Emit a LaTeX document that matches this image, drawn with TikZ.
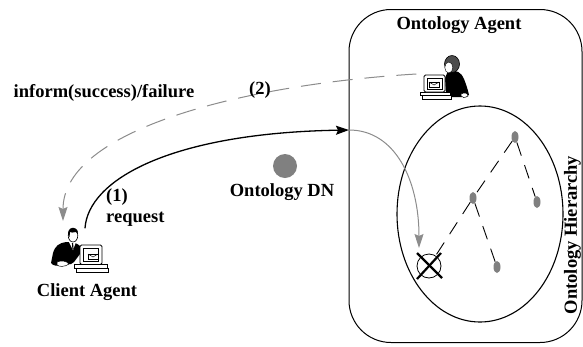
\documentclass[tikz,border=0pt]{standalone}
\usepackage{fontspec}
\setmainfont{Liberation Serif}
\usetikzlibrary{arrows.meta,shapes.geometric}

\definecolor{linegray}{gray}{0.55}
\definecolor{dotgray}{gray}{0.5}
\definecolor{hairgray}{gray}{0.3}

\tikzset{
  lbl/.style={font=\bfseries\fontsize{18.5}{20}\selectfont, inner sep=0pt},
  treenode/.style={ellipse, fill=dotgray, minimum width=7pt, minimum height=12pt, inner sep=0pt},
  treelink/.style={dash pattern=on 14pt off 10pt, line width=0.9pt},
  iconbox/.style={inner sep=0pt, minimum width=57pt, minimum height=47pt},
  blackarrow/.style={line width=1.3pt, -{Stealth[length=13pt,width=9pt,inset=2pt]}},
  grayarrow/.style={draw=linegray, line width=1pt, -{Stealth[length=14pt,width=9pt,inset=2pt,fill=linegray]}},
  graydashed/.style={draw=linegray, line width=1pt, dash pattern=on 20pt off 12pt,
    -{Stealth[length=14pt,width=9pt,inset=2pt,fill=linegray]}},
  % man at a desktop computer, local origin at the icon's top-left corner
  manicon/.pic={
    \draw[fill=white, line width=0.7pt] (29,42.5) rectangle (62,46.5);
    \draw[fill=white, line width=0.7pt] (31,46.5) rectangle (63,50);
    \fill[black] (21,20) .. controls (14,21) and (10,24) .. (8,31) -- (6,41)
      .. controls (8,44) and (12,44) .. (16,43) -- (26,42) -- (29,40) -- (35,32) -- (35,24)
      .. controls (32,21) and (28,20) .. (21,20) -- cycle;
    \draw[fill=white, line width=0.5pt] (12,40) .. controls (16,38) and (22,39) .. (24,42)
      .. controls (20,45) and (14,45) .. (12,43) -- cycle;
    \fill[white] (24,20) -- (31,20) -- (28,28) -- cycle;
    \draw[line width=1.2pt] (27.5,21) -- (28,27);
    \draw[fill=white, line width=0.6pt] (28,13.5) ellipse (4.8 and 6.5);
    \fill[black] (23.2,13) .. controls (22.5,6) and (27,5.5) .. (29,6)
      .. controls (32,6.5) and (33.5,9) .. (32.5,12) -- (31,10)
      .. controls (28,11) and (26,10.5) .. (25,10) -- (24.5,15) -- cycle;
    \draw[fill=white, line width=0.8pt, rounded corners=1.5pt] (35,23) rectangle (57,42.5);
    \draw[line width=0.6pt] (38.5,26.5) rectangle (53.5,39);
    \draw[fill=white, line width=0.6pt] (43,32) rectangle (53,37.5);
    \draw[line width=0.5pt] (43,32) -- (48,35) -- (53,32);
  },
  % woman at a desktop computer, local origin at the icon's top-left corner
  womanicon/.pic={
    \fill[black] (36,21) .. controls (44,19) and (50,23) .. (52,29)
      .. controls (54,34) and (56,40) .. (57,45) -- (50,47) -- (40,47) -- (34,45) -- (33,28) -- cycle;
    \draw[fill=white, line width=0.5pt] (49,44) .. controls (52,42) and (56,43) .. (56,46)
      .. controls (53,48) and (50,48) .. (49,46) -- cycle;
    \draw[fill=hairgray, line width=0.6pt] (40,14) ellipse (7.5 and 8.5);
    \draw[fill=white, line width=0.4pt] (36.8,17.5) ellipse (4 and 5.5);
    \draw[fill=white, line width=0.7pt] (8,42) rectangle (38,45.5);
    \draw[fill=white, line width=0.7pt] (10,45.5) rectangle (39,49);
    \draw[fill=white, line width=0.8pt, rounded corners=1.5pt] (12,25) rectangle (33,42);
    \draw[line width=0.6pt] (15,28) rectangle (30,39.5);
    \draw[fill=white, line width=0.6pt] (17,32) rectangle (27,37);
    \draw[line width=0.5pt] (17,32) -- (22,35) -- (27,32);
  }
}

\begin{document}
\begin{tikzpicture}[x=1pt,y=-1pt]
  \useasboundingbox (0,0) rectangle (583,346);

  % ontology agent container and its hierarchy
  \node[draw, line width=1pt, rounded corners=42pt, minimum width=233pt, minimum height=333pt,
        inner sep=0pt] (oagent) at (465.5,176) {};
  \node[ellipse, draw, line width=1.1pt, minimum width=166pt, minimum height=216pt,
        inner sep=0pt] (hier) at (480,214) {};

  \node[lbl] (oatitle) at (459,25) {Ontology Agent};
  \node[lbl, rotate=90] (hiertitle) at (572.5,235) {Ontology Hierarchy};

  % agents
  \node[iconbox] (oa) at (445,78) {};
  \pic at (412,50) {womanicon};
  \node[iconbox] (ca) at (82,252) {};
  \pic at (45,222) {manicon};
  \node[lbl] (catitle) at (87,292) {Client Agent};

  % directory node
  \node[circle, fill=dotgray, minimum size=24pt, inner sep=0pt] (dn) at (285,166) {};
  \node[lbl] (dntitle) at (282,192) {Ontology DN};

  % hierarchy tree
  \node[treenode] (t1) at (515,137) {};
  \node[treenode] (t2) at (473,198) {};
  \node[treenode] (t3) at (537,202) {};
  \node[treenode] (t4) at (497,267) {};
  \node[circle, draw, line width=0.8pt, minimum size=24pt, inner sep=0pt] (target) at (429,266) {};
  \draw[line width=2.2pt] ([shift={(-12,-13)}]target.center) -- ([shift={(13,12)}]target.center);
  \draw[line width=2.2pt] ([shift={(12,-13)}]target.center) -- ([shift={(-12,13)}]target.center);

  \draw[treelink] (t1) -- (t2);
  \draw[treelink] (t1) -- (t3);
  \draw[treelink] (t2) -- (t4);
  \draw[treelink] (t2) -- (target);

  % messages
  \coordinate (entry) at (349,130);
  \coordinate (lookup) at (419,248);
  \coordinate (reply) at (63,221);

  \draw[blackarrow] ([xshift=3pt]ca.north) .. controls (88,180) and (170,133) .. (entry);
  \draw[grayarrow] (entry) .. controls (395,130) and (419,180) .. (lookup);
  \draw[graydashed] ([yshift=4pt]oa.west) .. controls (250,84) and (63,128) .. (reply);

  \node[lbl] (informlbl) at (104,93) {inform(success)/failure};
  \node[lbl] (two) at (260,90) {(2)};
  \node[lbl, anchor=west] (one) at (106,197) {(1)};
  \node[lbl, anchor=west] (req) at (106,219) {request};
\end{tikzpicture}
\end{document}
